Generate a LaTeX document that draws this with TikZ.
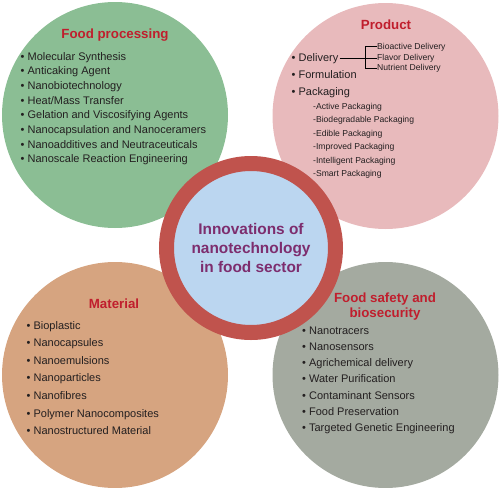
\documentclass[tikz,border=0pt]{standalone}
\usepackage{fontspec}
\setmainfont{Liberation Sans}
\usepackage{tikz}
\usetikzlibrary{positioning}

\definecolor{procgreen}{RGB}{139,190,148}
\definecolor{prodpink}{RGB}{232,186,188}
\definecolor{matorange}{RGB}{214,164,128}
\definecolor{safegrey}{RGB}{164,170,160}
\definecolor{ringred}{RGB}{192,83,77}
\definecolor{coreblue}{RGB}{187,214,240}
\definecolor{titlered}{RGB}{192,30,45}
\definecolor{corepurple}{RGB}{125,45,110}
\definecolor{itemtext}{RGB}{35,31,32}

\begin{document}
\begin{tikzpicture}[x=1pt,y=-1pt,
                    bubble/.style={circle,draw=none,inner sep=0pt,minimum size=226pt},
                    head/.style={font=\fontsize{13.3pt}{15pt}\selectfont\bfseries,text=titlered,align=center},
                    itm/.style={font=\fontsize{11pt}{13pt}\selectfont,text=itemtext,inner sep=0pt,anchor=base west},
                    sub/.style={font=\fontsize{8.6pt}{10pt}\selectfont,text=itemtext,inner sep=0pt,anchor=base west}]
\useasboundingbox (0,0) rectangle (499,488);

        % the four topic circles
        \node[bubble,fill=procgreen]  (proc) at (115,115)   {};
        \node[bubble,fill=prodpink]   (prod) at (385.5,116) {};
        \node[bubble,fill=matorange]  (mat)  at (115,375)   {};
        \node[bubble,fill=safegrey]   (safe) at (385.5,375) {};

        % centre
        \node[circle,draw=ringred,line width=15pt,fill=coreblue,minimum size=169pt,inner sep=0pt,
              text=corepurple,align=center,font=\fontsize{15.4pt}{19pt}\selectfont\bfseries]
              (core) at (251,248) {Innovations of\\nanotechnology\\in food sector};

        % Food processing
        \node[head] (proct) at (115,35.5) {Food processing};
        \foreach \txt [count=\i] in {Molecular Synthesis,Anticaking Agent,Nanobiotechnology,Heat/Mass Transfer,
                                     Gelation and Viscosifying Agents,Nanocapsulation and Nanoceramers,
                                     Nanoadditives and Neutraceuticals,Nanoscale Reaction Engineering}
            \node[itm] (proc\i) at (20.5,60+14.7*\i-14.7) {\textbullet\ \txt};

        % Product
        \node[head] (prodt) at (386,25) {Product};
        \node[itm] (del)  at (291.5,61)   {\textbullet\ Delivery};
        \node[itm] (form) at (291.5,78.3) {\textbullet\ Formulation};
        \node[itm] (pack) at (291.5,95.6) {\textbullet\ Packaging};
        \node[sub] (bio) at (377,49) {Bioactive Delivery};
        \node[sub] (fla) at (377,60.2) {Flavor Delivery};
        \node[sub] (nut) at (377,70.8) {Nutrient Delivery};
        \draw[line width=0.8pt,shorten <=1pt] (del.east) -- (del.east -| fla.west);
        \draw[line width=0.8pt] (bio.west) -| ([xshift=-12pt]nut.west) -- (nut.west);
        \foreach \txt [count=\i] in {Active Packaging,Biodegradable Packaging,Edible Packaging,
                                     Improved Packaging,Intelligent Packaging,Smart Packaging}
            \node[sub] (pack\i) at (313,109.5+13.4*\i-13.4) {-\txt};

        % Material
        \node[head] (matt) at (114,303.5) {Material};
        \foreach \txt [count=\i] in {Bioplastic,Nanocapsules,Nanoemulsions,Nanoparticles,Nanofibres,
                                     Polymer Nanocomposites,Nanostructured Material}
            \node[itm] (mat\i) at (26.5,329+17.6*\i-17.6) {\textbullet\ \txt};

        % Food safety and biosecurity
        \node[head] (safet) at (385,307) {Food safety and\\biosecurity};
        \foreach \txt [count=\i] in {Nanotracers,Nanosensors,Agrichemical delivery,Water Purification,
                                     Contaminant Sensors,Food Preservation,Targeted Genetic Engineering}
            \node[itm] (safe\i) at (302,334+16.25*\i-16.25) {\textbullet\ \txt};

\end{tikzpicture}
\end{document}
